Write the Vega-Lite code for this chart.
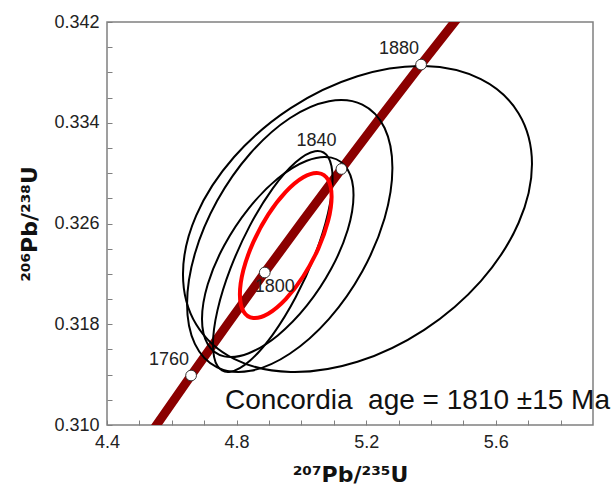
{
  "$schema": "https://vega.github.io/schema/vega-lite/v6.json",
  "width": 486,
  "height": 403,
  "autosize": "none",
  "padding": {"left": 107, "top": 22, "right": 21, "bottom": 63},
  "config": {
    "font": "Liberation Sans",
    "view": {"stroke": "#808080", "strokeWidth": 1.5}
  },
  "datasets": {
    "conc": [
      {"age": 1720, "x": 4.4409, "y": 0.30580},
      {"age": 1740, "x": 4.5491, "y": 0.30986},
      {"age": 1760, "x": 4.6595, "y": 0.31393},
      {"age": 1780, "x": 4.7721, "y": 0.31801},
      {"age": 1800, "x": 4.8869, "y": 0.32211},
      {"age": 1820, "x": 5.0040, "y": 0.32621},
      {"age": 1840, "x": 5.1235, "y": 0.33033},
      {"age": 1860, "x": 5.2453, "y": 0.33447},
      {"age": 1880, "x": 5.3694, "y": 0.33862},
      {"age": 1900, "x": 5.4962, "y": 0.34277},
      {"age": 1920, "x": 5.6254, "y": 0.34695}
    ],
    "ell": [
      {"e": "A", "i": 0, "x": 5.7117, "y": 0.33073},
      {"e": "A", "i": 1, "x": 5.6705, "y": 0.33474},
      {"e": "A", "i": 2, "x": 5.5538, "y": 0.33746},
      {"e": "A", "i": 3, "x": 5.3791, "y": 0.33850},
      {"e": "A", "i": 4, "x": 5.1730, "y": 0.33769},
      {"e": "A", "i": 5, "x": 4.9669, "y": 0.33516},
      {"e": "A", "i": 6, "x": 4.7922, "y": 0.33128},
      {"e": "A", "i": 7, "x": 4.6755, "y": 0.32665},
      {"e": "A", "i": 8, "x": 4.6345, "y": 0.32198},
      {"e": "A", "i": 9, "x": 4.6755, "y": 0.31798},
      {"e": "A", "i": 10, "x": 4.7922, "y": 0.31525},
      {"e": "A", "i": 11, "x": 4.9669, "y": 0.31421},
      {"e": "A", "i": 12, "x": 5.1730, "y": 0.31502},
      {"e": "A", "i": 13, "x": 5.3791, "y": 0.31756},
      {"e": "A", "i": 14, "x": 5.5538, "y": 0.32143},
      {"e": "A", "i": 15, "x": 5.6705, "y": 0.32606},
      {"e": "B", "i": 0, "x": 5.2809, "y": 0.33041},
      {"e": "B", "i": 1, "x": 5.2568, "y": 0.33358},
      {"e": "B", "i": 2, "x": 5.1881, "y": 0.33544},
      {"e": "B", "i": 3, "x": 5.0853, "y": 0.33571},
      {"e": "B", "i": 4, "x": 4.9640, "y": 0.33436},
      {"e": "B", "i": 5, "x": 4.8427, "y": 0.33158},
      {"e": "B", "i": 6, "x": 4.7399, "y": 0.32780},
      {"e": "B", "i": 7, "x": 4.6712, "y": 0.32360},
      {"e": "B", "i": 8, "x": 4.6471, "y": 0.31961},
      {"e": "B", "i": 9, "x": 4.6712, "y": 0.31644},
      {"e": "B", "i": 10, "x": 4.7399, "y": 0.31458},
      {"e": "B", "i": 11, "x": 4.8427, "y": 0.31430},
      {"e": "B", "i": 12, "x": 4.9640, "y": 0.31566},
      {"e": "B", "i": 13, "x": 5.0853, "y": 0.31843},
      {"e": "B", "i": 14, "x": 5.1881, "y": 0.32221},
      {"e": "B", "i": 15, "x": 5.2568, "y": 0.32642},
      {"e": "C", "i": 0, "x": 5.1609, "y": 0.32826},
      {"e": "C", "i": 1, "x": 5.1431, "y": 0.33027},
      {"e": "C", "i": 2, "x": 5.0924, "y": 0.33123},
      {"e": "C", "i": 3, "x": 5.0166, "y": 0.33098},
      {"e": "C", "i": 4, "x": 4.9271, "y": 0.32957},
      {"e": "C", "i": 5, "x": 4.8376, "y": 0.32721},
      {"e": "C", "i": 6, "x": 4.7617, "y": 0.32426},
      {"e": "C", "i": 7, "x": 4.7110, "y": 0.32118},
      {"e": "C", "i": 8, "x": 4.6932, "y": 0.31842},
      {"e": "C", "i": 9, "x": 4.7110, "y": 0.31641},
      {"e": "C", "i": 10, "x": 4.7617, "y": 0.31545},
      {"e": "C", "i": 11, "x": 4.8376, "y": 0.31570},
      {"e": "C", "i": 12, "x": 4.9271, "y": 0.31711},
      {"e": "C", "i": 13, "x": 5.0166, "y": 0.31947},
      {"e": "C", "i": 14, "x": 5.0924, "y": 0.32242},
      {"e": "C", "i": 15, "x": 5.1431, "y": 0.32550},
      {"e": "D", "i": 0, "x": 5.0963, "y": 0.32956},
      {"e": "D", "i": 1, "x": 5.0823, "y": 0.33128},
      {"e": "D", "i": 2, "x": 5.0422, "y": 0.33174},
      {"e": "D", "i": 3, "x": 4.9823, "y": 0.33086},
      {"e": "D", "i": 4, "x": 4.9117, "y": 0.32879},
      {"e": "D", "i": 5, "x": 4.8410, "y": 0.32583},
      {"e": "D", "i": 6, "x": 4.7811, "y": 0.32243},
      {"e": "D", "i": 7, "x": 4.7411, "y": 0.31912},
      {"e": "D", "i": 8, "x": 4.7271, "y": 0.31640},
      {"e": "D", "i": 9, "x": 4.7411, "y": 0.31468},
      {"e": "D", "i": 10, "x": 4.7811, "y": 0.31423},
      {"e": "D", "i": 11, "x": 4.8410, "y": 0.31510},
      {"e": "D", "i": 12, "x": 4.9117, "y": 0.31718},
      {"e": "D", "i": 13, "x": 4.9823, "y": 0.32014},
      {"e": "D", "i": 14, "x": 5.0422, "y": 0.32353},
      {"e": "D", "i": 15, "x": 5.0823, "y": 0.32684},
      {"e": "E", "i": 0, "x": 5.0932, "y": 0.32813},
      {"e": "E", "i": 1, "x": 5.0825, "y": 0.32947},
      {"e": "E", "i": 2, "x": 5.0518, "y": 0.33000},
      {"e": "E", "i": 3, "x": 5.0059, "y": 0.32967},
      {"e": "E", "i": 4, "x": 4.9517, "y": 0.32851},
      {"e": "E", "i": 5, "x": 4.8975, "y": 0.32670},
      {"e": "E", "i": 6, "x": 4.8516, "y": 0.32452},
      {"e": "E", "i": 7, "x": 4.8209, "y": 0.32230},
      {"e": "E", "i": 8, "x": 4.8102, "y": 0.32037},
      {"e": "E", "i": 9, "x": 4.8209, "y": 0.31904},
      {"e": "E", "i": 10, "x": 4.8516, "y": 0.31850},
      {"e": "E", "i": 11, "x": 4.8975, "y": 0.31884},
      {"e": "E", "i": 12, "x": 4.9517, "y": 0.32000},
      {"e": "E", "i": 13, "x": 5.0059, "y": 0.32181},
      {"e": "E", "i": 14, "x": 5.0518, "y": 0.32399},
      {"e": "E", "i": 15, "x": 5.0825, "y": 0.32621}
    ],
    "note": [
      {"label": "Concordia\u00a0 age = 1810 ±15 Ma", "x": 4.764, "y": 0.3113}
    ]
  },
  "encoding": {
    "x": {
      "field": "x", "type": "quantitative",
      "scale": {"domain": [4.4, 5.9], "nice": false, "zero": false},
      "axis": {
        "title": "²⁰⁷Pb/²³⁵U",
        "values": [4.4, 4.5, 4.6, 4.7, 4.8, 4.9, 5.0, 5.1, 5.2, 5.3, 5.4, 5.5, 5.6, 5.7, 5.8],
        "labelExpr": "round(datum.value*10) % 4 == 0 ? format(datum.value, '.1f') : ''",
        "grid": false, "domain": false,
        "tickSize": -5, "tickColor": "#808080", "tickWidth": 1,
        "labelFlush": false, "labelOverlap": false,
        "labelPadding": 13,
        "labelFontSize": 18, "labelColor": "#222222",
        "titleFont": "DejaVu Sans",
        "titleFontSize": 22, "titleFontWeight": "bold", "titleColor": "#111111",
        "titlePadding": 13
      }
    },
    "y": {
      "field": "y", "type": "quantitative",
      "scale": {"domain": [0.31, 0.342], "nice": false, "zero": false},
      "axis": {
        "title": "²⁰⁶Pb/²³⁸U",
        "values": [0.310, 0.312, 0.314, 0.316, 0.318, 0.320, 0.322, 0.324, 0.326, 0.328, 0.330, 0.332, 0.334, 0.336, 0.338, 0.340, 0.342],
        "labelExpr": "round(datum.value*1000) % 8 == 6 ? format(datum.value, '.3f') : ''",
        "grid": false, "domain": false,
        "tickSize": -5, "tickColor": "#808080", "tickWidth": 1,
        "labelFlush": false, "labelOverlap": false,
        "labelPadding": 13,
        "labelFontSize": 18, "labelColor": "#222222",
        "titleFont": "DejaVu Sans",
        "titleFontSize": 22, "titleFontWeight": "bold", "titleColor": "#111111",
        "titlePadding": 12
      }
    }
  },
  "layer": [
    {
      "data": {"name": "conc"},
      "mark": {"type": "line", "color": "#8B0000", "strokeWidth": 9, "clip": true, "interpolate": "monotone"},
      "encoding": {"order": {"field": "age"}}
    },
    {
      "data": {"name": "ell"},
      "transform": [{"filter": "datum.e != 'E'"}],
      "mark": {"type": "line", "color": "#000000", "strokeWidth": 2, "interpolate": "cardinal-closed"},
      "encoding": {"detail": {"field": "e"}, "order": {"field": "i"}}
    },
    {
      "data": {"name": "ell"},
      "transform": [{"filter": "datum.e == 'E'"}],
      "mark": {"type": "line", "color": "#FF0000", "strokeWidth": 4, "interpolate": "cardinal-closed"},
      "encoding": {"detail": {"field": "e"}, "order": {"field": "i"}}
    },
    {
      "data": {"name": "conc"},
      "transform": [{"filter": "datum.age >= 1760 && datum.age <= 1880 && datum.age % 40 == 0"}],
      "mark": {"type": "point", "filled": true, "fill": "#ffffff", "stroke": "#333333", "strokeWidth": 1, "size": 115, "opacity": 1}
    },
    {
      "data": {"name": "conc"},
      "transform": [{"filter": "datum.age == 1760 || datum.age == 1880"}],
      "mark": {"type": "text", "dx": -22, "dy": -16, "fontSize": 18, "color": "#222222"},
      "encoding": {"text": {"field": "age", "type": "quantitative", "format": "d"}}
    },
    {
      "data": {"name": "conc"},
      "transform": [{"filter": "datum.age == 1840"}],
      "mark": {"type": "text", "dx": -25, "dy": -28, "fontSize": 18, "color": "#222222"},
      "encoding": {"text": {"field": "age", "type": "quantitative", "format": "d"}}
    },
    {
      "data": {"name": "conc"},
      "transform": [{"filter": "datum.age == 1800"}],
      "mark": {"type": "text", "dx": 10, "dy": 15, "fontSize": 18, "color": "#222222"},
      "encoding": {"text": {"field": "age", "type": "quantitative", "format": "d"}}
    },
    {
      "data": {"name": "note"},
      "mark": {"type": "text", "align": "left", "baseline": "alphabetic", "fontSize": 28, "color": "#111111", "clip": false},
      "encoding": {"text": {"field": "label"}}
    }
  ]
}
